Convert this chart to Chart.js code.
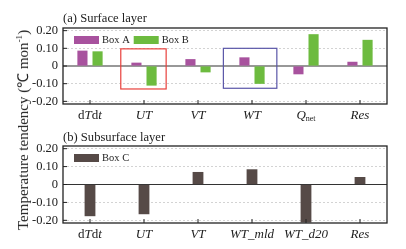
<!DOCTYPE html>
<html>
<head>
<meta charset="utf-8">
<script src="https://cdn.jsdelivr.net/npm/chart.js@4"></script>
<style>
    body { margin: 0; background: #fff; }
    #wrap { position: relative; width: 406px; height: 249px; font-family: "Liberation Serif", serif; color: #222; }
    .panel { position: absolute; left: 0; width: 406px; }
    .ptitle { position: absolute; left: 63px; font-size: 12.6px; line-height: 14px; }
    #ytitle { position: absolute; left: 22px; top: 130px; transform: translate(-50%, -50%) rotate(-90deg); white-space: nowrap; font-size: 15px; }
    #ytitle sup { font-size: 9px; }
</style>
</head>
<body>
<div id="wrap">
    <div class="panel" style="top:0;height:125px"><canvas id="chartA" width="406" height="125"></canvas></div>
    <div class="panel" style="top:125px;height:124px"><canvas id="chartB" width="406" height="124"></canvas></div>
    <div class="ptitle" style="top:11px">(a) Surface layer</div>
    <div class="ptitle" style="top:130px">(b) Subsurface layer</div>
    <div id="ytitle">Temperature tendency (℃ mon<sup>-1</sup>)</div>
</div>
<script>
// Surface layer (a)
const catsA = ['dTdt', 'UT', 'VT', 'WT', 'Qnet', 'Res'];
const boxA = [0.087, 0.019, 0.039, 0.049, -0.047, 0.024];
const boxB = [0.083, -0.111, -0.036, -0.101, 0.180, 0.148];

// Subsurface layer (b)
const catsB = ['dTdt', 'UT', 'VT', 'WT_mld', 'WT_d20', 'Res'];
const boxC = [-0.177, -0.166, 0.070, 0.085, -0.212, 0.042];

const yTicks = [-0.2, -0.1, 0, 0.1, 0.2];

// label pieces: [text, italic, subscript]
const labelParts = {
    'dTdt': [['d', false], ['T', true], ['d', false], ['t', true]],
    'UT': [['UT', true]],
    'VT': [['VT', true]],
    'WT': [['WT', true]],
    'Qnet': [['Q', true], ['net', false, true]],
    'Res': [['Res', true]],
    'WT_mld': [['WT_mld', true]],
    'WT_d20': [['WT_d20', true]]
};

// highlight boxes in panel (a): category index range and value range
const highlights = [
    { x0: 0.57, x1: 1.41, y0: 0.097, y1: -0.130, color: '#e8403c' },
    { x0: 2.47, x1: 3.46, y0: 0.100, y1: -0.126, color: '#5a56a8' }
];

const SERIF = '"Liberation Serif", "DejaVu Serif", serif';

// frame, zero line, inward ticks, category labels, legend
const framePlugin = {
    id: 'frame',
    beforeDatasetsDraw(chart) {
        const ctx = chart.ctx, a = chart.chartArea;
        const y = chart.scales.y;
        ctx.save();
        const y0 = y.getPixelForValue(0);
        ctx.strokeStyle = '#333';
        ctx.lineWidth = 1.2;
        ctx.beginPath();
        ctx.moveTo(a.left, y0);
        ctx.lineTo(a.right, y0);
        ctx.stroke();
        ctx.restore();
    },
    afterDraw(chart) {
        const ctx = chart.ctx, a = chart.chartArea;
        const x = chart.scales.x, y = chart.scales.y;
        ctx.save();
        ctx.strokeStyle = '#222';
        ctx.lineWidth = 1.3;
        ctx.strokeRect(a.left, a.top, a.right - a.left, a.bottom - a.top);
        ctx.lineWidth = 1;
        yTicks.forEach(v => {
            const p = y.getPixelForValue(v);
            ctx.beginPath();
            ctx.moveTo(a.left, p);
            ctx.lineTo(a.left + 4, p);
            ctx.stroke();
        });
        chart.data.labels.forEach((lab, i) => {
            const px = x.getPixelForValue(i);
            ctx.strokeStyle = '#222';
            ctx.beginPath();
            ctx.moveTo(px, a.bottom);
            ctx.lineTo(px, a.bottom - 4);
            ctx.stroke();
            const parts = labelParts[lab] || [[lab, true]];
            const fontOf = p => (p[1] ? 'italic ' : '') + (p[2] ? '8px ' : '13px ') + SERIF;
            let w = 0;
            parts.forEach(p => { ctx.font = fontOf(p); w += ctx.measureText(p[0]).width; });
            let cx = px - w / 2;
            const by = a.bottom + 15;
            ctx.fillStyle = '#222';
            ctx.textBaseline = 'alphabetic';
            ctx.textAlign = 'left';
            parts.forEach(p => {
                ctx.font = fontOf(p);
                ctx.fillText(p[0], cx, p[2] ? by + 2 : by);
                cx += ctx.measureText(p[0]).width;
            });
        });
        const hl = chart.options.plugins.frame.boxes || [];
        hl.forEach(b => {
            ctx.strokeStyle = b.color;
            ctx.lineWidth = 1.2;
            const l = x.getPixelForValue(b.x0), r = x.getPixelForValue(b.x1);
            const t = y.getPixelForValue(b.y0), btm = y.getPixelForValue(b.y1);
            ctx.strokeRect(l, t, r - l, btm - t);
        });
        // legend inside the plot, top left
        let lx = a.left + 11;
        const ly = a.top + 8;
        ctx.font = '10.5px ' + SERIF;
        ctx.textBaseline = 'middle';
        chart.data.datasets.forEach(ds => {
            ctx.fillStyle = ds.backgroundColor;
            ctx.fillRect(lx, ly, 25, 8);
            lx += 28;
            ctx.fillStyle = '#222';
            ctx.fillText(ds.label, lx, ly + 4.5);
            lx += ctx.measureText(ds.label).width + 4;
        });
        ctx.restore();
    }
};

function makeOptions(padTop, xHeight, boxes, catPct, barPct) {
    return {
        responsive: false,
        animation: false,
        layout: { padding: { top: padTop, right: 19, left: 0, bottom: 0 } },
        datasets: { bar: { categoryPercentage: catPct, barPercentage: barPct } },
        scales: {
            x: {
                ticks: { display: false },
                grid: { display: false },
                border: { display: false },
                afterFit: s => { s.height = xHeight; }
            },
            y: {
                min: -0.215,
                max: 0.215,
                afterBuildTicks: s => { s.ticks = yTicks.map(v => ({ value: v })); },
                afterFit: s => { s.width = 63; },
                ticks: {
                    padding: 5,
                    color: '#222',
                    font: { family: SERIF, size: 12.5 },
                    callback: v => (Math.abs(v) < 1e-9 ? '0' : v.toFixed(2))
                },
                grid: {
                    drawTicks: false,
                    color: c => (Math.abs(c.tick.value) < 1e-9 ? 'rgba(0,0,0,0)' : '#c8c8c8'),
                    lineWidth: 0.8
                },
                border: { display: false, dash: [2, 2] }
            }
        },
        plugins: {
            tooltip: { enabled: false },
            legend: { display: false },
            frame: { boxes: boxes }
        }
    };
}

new Chart(document.getElementById('chartA'), {
    type: 'bar',
    data: {
        labels: catsA,
        datasets: [
            { label: 'Box A', data: boxA, backgroundColor: '#a8529e' },
            { label: 'Box B', data: boxB, backgroundColor: '#6dbb3f' }
        ]
    },
    options: makeOptions(28, 21, highlights, 0.56, 0.67),
    plugins: [framePlugin]
});

new Chart(document.getElementById('chartB'), {
    type: 'bar',
    data: {
        labels: catsB,
        datasets: [
            { label: 'Box C', data: boxC, backgroundColor: '#564a47' }
        ]
    },
    options: makeOptions(21, 26, [], 0.2, 1),
    plugins: [framePlugin]
});
</script>
</body>
</html>
